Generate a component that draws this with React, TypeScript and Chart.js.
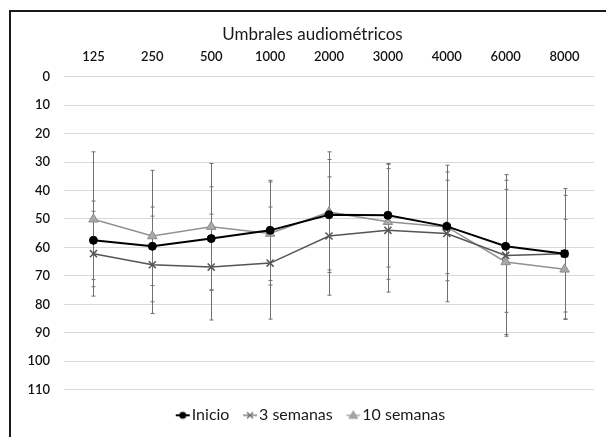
import React, { useEffect, useRef } from "react";
import { Chart, registerables } from "chart.js";

Chart.register(...registerables);

const frequencies = ["125", "250", "500", "1000", "2000", "3000", "4000", "6000", "8000"];
const inicio = [57.5, 59.6, 56.9, 54.0, 48.5, 48.7, 52.6, 59.6, 62.2];
const inicioErr = [13.8, 13.8, 18.2, 17.6, 19.4, 18.2, 19.1, 23.2, 22.9];
const semanas3 = [62.2, 66.1, 66.9, 65.5, 56.0, 54.0, 55.1, 62.8, 62.2];
const semanas3Err = [14.9, 17.1, 18.6, 19.7, 20.8, 21.7, 24.0, 28.4, 20.5];
const semanas10 = [50.1, 56.0, 52.7, 55.1, 47.6, 51.0, 52.8, 65.1, 67.7];
const semanas10Err = [23.7, 23.1, 22.2, 18.1, 21.2, 20.2, 16.4, 25.5, 17.6];
const seriesNames = ["Inicio", "3 semanas", "10 semanas"];
const chartTitle = "Umbrales audiométricos";

const FONT = "Lato, 'Open Sans', sans-serif";
const errorSets = [inicioErr, semanas3Err, semanas10Err];

function legendIcon(kind: string): HTMLCanvasElement {
  const c = document.createElement("canvas");
  c.width = 36;
  c.height = 12;
  const ctx = c.getContext("2d")!;
  const cy = 6;
  const cx = 19;
  const x0 = 12;
  const x1 = 26;
  if (kind === "circle") {
    ctx.strokeStyle = "#000";
    ctx.lineWidth = 2;
    ctx.beginPath();
    ctx.moveTo(x0, cy);
    ctx.lineTo(x1, cy);
    ctx.stroke();
    ctx.fillStyle = "#000";
    ctx.beginPath();
    ctx.arc(cx, cy, 3.5, 0, Math.PI * 2);
    ctx.fill();
  } else if (kind === "cross") {
    ctx.strokeStyle = "#666";
    ctx.lineWidth = 1.2;
    ctx.beginPath();
    ctx.moveTo(x0, cy);
    ctx.lineTo(x1, cy);
    ctx.stroke();
    ctx.beginPath();
    ctx.moveTo(cx - 3, cy - 3);
    ctx.lineTo(cx + 3, cy + 3);
    ctx.moveTo(cx + 3, cy - 3);
    ctx.lineTo(cx - 3, cy + 3);
    ctx.stroke();
  } else {
    ctx.strokeStyle = "#9a9a9a";
    ctx.lineWidth = 1.2;
    ctx.beginPath();
    ctx.moveTo(x0, cy);
    ctx.lineTo(x1, cy);
    ctx.stroke();
    ctx.fillStyle = "#a6a6a6";
    ctx.beginPath();
    ctx.moveTo(cx, cy - 4);
    ctx.lineTo(cx + 4, cy + 3);
    ctx.lineTo(cx - 4, cy + 3);
    ctx.closePath();
    ctx.fill();
    ctx.stroke();
  }
  return c;
}

const errorBarsPlugin = {
  id: "errorBars",
  beforeDatasetsDraw(chart: any) {
    const ctx = chart.ctx;
    const yScale = chart.scales.y;
    ctx.save();
    ctx.strokeStyle = "#707070";
    ctx.lineWidth = 1;
    chart.data.datasets.forEach((ds: any, i: number) => {
      const meta = chart.getDatasetMeta(i);
      const errs = errorSets[i];
      meta.data.forEach((pt: any, j: number) => {
        const v = ds.data[j] as number;
        const e = errs[j];
        const x = Math.round(pt.x) + 0.5;
        const yTop = yScale.getPixelForValue(v - e);
        const yBot = yScale.getPixelForValue(v + e);
        ctx.beginPath();
        ctx.moveTo(x, yTop);
        ctx.lineTo(x, yBot);
        ctx.moveTo(x - 2, yTop);
        ctx.lineTo(x + 2, yTop);
        ctx.moveTo(x - 2, yBot);
        ctx.lineTo(x + 2, yBot);
        ctx.stroke();
      });
    });
    ctx.restore();
  },
};

export default function App() {
  const ref = useRef<HTMLCanvasElement | null>(null);

  useEffect(() => {
    if (!ref.current) return;
    const icons = [legendIcon("circle"), legendIcon("cross"), legendIcon("triangle")];
    const chart = new Chart(ref.current, {
      type: "line",
      data: {
        labels: frequencies,
        datasets: [
          {
            label: seriesNames[0],
            data: inicio,
            borderColor: "#000",
            backgroundColor: "#000",
            borderWidth: 2,
            pointStyle: "circle",
            pointRadius: 4,
            pointBorderWidth: 1,
            pointBorderColor: "#000",
            pointBackgroundColor: "#000",
            tension: 0,
          },
          {
            label: seriesNames[1],
            data: semanas3,
            borderColor: "#555",
            backgroundColor: "#fff",
            borderWidth: 1.5,
            pointStyle: "crossRot",
            pointRadius: 5,
            pointBorderWidth: 1.5,
            pointBorderColor: "#555",
            tension: 0,
          },
          {
            label: seriesNames[2],
            data: semanas10,
            borderColor: "#929292",
            backgroundColor: "#a6a6a6",
            borderWidth: 1.5,
            pointStyle: "triangle",
            pointRadius: 5.5,
            pointBorderWidth: 1,
            pointBorderColor: "#8c8c8c",
            pointBackgroundColor: "#a8a8a8",
            tension: 0,
          },
        ],
      },
      options: {
        responsive: false,
        animation: false,
        devicePixelRatio: 1,
        layout: { padding: { left: 17, right: 12, top: 0, bottom: 3.7 } },
        plugins: {
          title: {
            display: true,
            text: chartTitle,
            color: "#1a1a1a",
            font: { family: FONT, size: 17, weight: "normal" },
            padding: { top: 12, bottom: 0 },
          },
          legend: {
            position: "bottom",
            labels: {
              usePointStyle: true,
              pointStyleWidth: 4,
              boxHeight: 4,
              padding: 17.6,
              color: "#1a1a1a",
              font: { family: FONT, size: 16 },
              generateLabels: (ch: any) =>
                ch.data.datasets.map((ds: any, i: number) => ({
                  text: ds.label,
                  pointStyle: icons[i],
                  fillStyle: "#000",
                  strokeStyle: "#000",
                  lineWidth: 0,
                  hidden: false,
                  datasetIndex: i,
                  fontColor: "#1a1a1a",
                })),
            },
          },
          tooltip: { enabled: false },
        },
        scales: {
          x: {
            type: "category",
            position: "top",
            offset: true,
            grid: { display: false, drawTicks: false },
            border: { display: false },
            ticks: {
              color: "#111",
              padding: 12,
              font: { family: FONT, size: 13, weight: "600" },
              maxRotation: 0,
            },
            afterFit: (s: any) => {
              s.height = 32.3;
            },
          },
          y: {
            reverse: true,
            min: 0,
            max: 110,
            ticks: {
              stepSize: 10,
              color: "#111",
              padding: 14,
              font: { family: FONT, size: 13, weight: "600" },
            },
            grid: { color: "#d9d9d9", lineWidth: 1, drawTicks: false },
            border: { display: false },
            afterFit: (s: any) => {
              s.width = 36;
            },
          },
          yRight: {
            position: "right",
            min: 0,
            max: 110,
            grid: { display: false, drawTicks: false },
            border: { display: false },
            ticks: { display: false },
            afterFit: (s: any) => {
              s.width = 3;
            },
          },
        },
      },
      plugins: [errorBarsPlugin],
    });
    return () => chart.destroy();
  }, []);

  return (
    <div
      style={{
        marginLeft: 1,
        marginTop: 2,
        width: 602,
        height: 440,
        border: "2px solid #1a1a1a",
        borderBottom: "none",
        boxSizing: "border-box",
        background: "#fff",
      }}
    >
      <canvas ref={ref} width={598} height={425} style={{ display: "block" }} />
    </div>
  );
}
